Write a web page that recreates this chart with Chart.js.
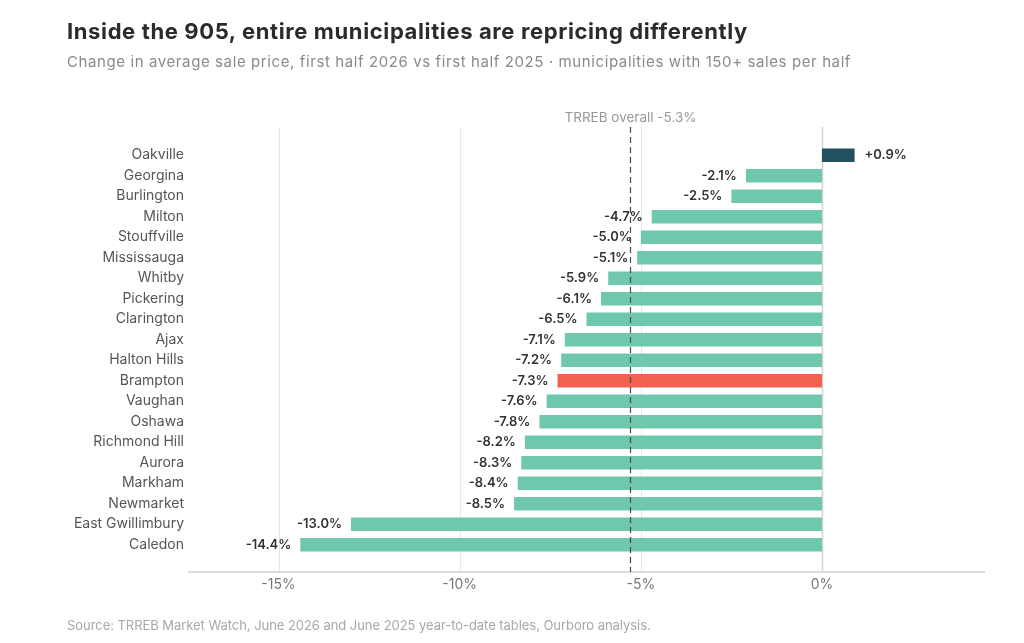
<!DOCTYPE html>
<html>
<head>
<meta charset="utf-8">
<script src="https://cdn.jsdelivr.net/npm/chart.js@4/dist/chart.umd.min.js"></script>
<style>
  body { margin: 0; background: #fff; font-family: "Inter", "Noto Sans", sans-serif; }
  #wrap { position: relative; width: 1024px; height: 643px; }
  #chart { position: absolute; left: 0; top: 0; }
  .title { position: absolute; left: 67px; top: 18px; font-size: 22px; font-weight: 700; color: #2b2b2b; letter-spacing: 0.62px; }
  .subtitle { position: absolute; left: 67px; top: 52px; font-size: 15px; color: #8a8a8a; letter-spacing: 0.6px; }
  .source { position: absolute; left: 67px; top: 617px; font-size: 13px; color: #a8a8a8; letter-spacing: -0.05px; }
</style>
</head>
<body>
<div id="wrap">
  <canvas id="chart" width="1024" height="643"></canvas>
  <div class="title">Inside the 905, entire municipalities are repricing differently</div>
  <div class="subtitle">Change in average sale price, first half 2026 vs first half 2025 · municipalities with 150+ sales per half</div>
  <div class="source">Source: TRREB Market Watch, June 2026 and June 2025 year-to-date tables, Ourboro analysis.</div>
</div>
<script>
const municipalities = ["Oakville", "Georgina", "Burlington", "Milton", "Stouffville", "Mississauga", "Whitby",
    "Pickering", "Clarington", "Ajax", "Halton Hills", "Brampton", "Vaughan", "Oshawa", "Richmond Hill",
    "Aurora", "Markham", "Newmarket", "East Gwillimbury", "Caledon"];
const priceChange = [0.9, -2.1, -2.5, -4.7, -5.0, -5.1, -5.9, -6.1, -6.5, -7.1, -7.2, -7.3, -7.6, -7.8, -8.2,
    -8.3, -8.4, -8.5, -13.0, -14.4];
const xTicks = [-15, -10, -5, 0];
const overallChange = -5.3;
const highlighted = "Brampton";

const teal = "#6fc8ae";
const red = "#f26150";
const dark = "#23505e";

let barColors = municipalities.map(function (name, i) {
    if (name === highlighted) return red;
    if (priceChange[i] > 0) return dark;
    return teal;
});

function fmt(v) {
    return (v > 0 ? "+" : "") + v.toFixed(1) + "%";
}

// grid lines and axis run a bit past the bars, so draw them by hand
const gridPlugin = {
    id: "grid",
    beforeDatasetsDraw(chart) {
        const ctx = chart.ctx;
        const area = chart.chartArea;
        const x = chart.scales.x;
        const top = area.top - 18;
        const bottom = area.bottom + 17;
        ctx.save();
        xTicks.forEach(function (t) {
            const px = Math.round(x.getPixelForValue(t)) + 0.5;
            ctx.strokeStyle = t === 0 ? "#d2d2ce" : "#e8e8e4";
            ctx.lineWidth = t === 0 ? 1.5 : 1;
            ctx.beginPath();
            ctx.moveTo(px, top);
            ctx.lineTo(px, bottom);
            ctx.stroke();
        });
        ctx.strokeStyle = "#dcdcd8";
        ctx.lineWidth = 2;
        ctx.beginPath();
        ctx.moveTo(area.left, bottom);
        ctx.lineTo(area.right, bottom);
        ctx.stroke();
        ctx.restore();
    },
    afterDatasetsDraw(chart) {
        const ctx = chart.ctx;
        const area = chart.chartArea;
        const x = chart.scales.x;
        const meta = chart.getDatasetMeta(0);
        ctx.save();
        // value labels
        ctx.font = "600 13px Inter, 'Noto Sans', sans-serif";
        ctx.fillStyle = "#333";
        ctx.textBaseline = "middle";
        meta.data.forEach(function (bar, i) {
            const v = priceChange[i];
            if (v < 0) {
                ctx.textAlign = "right";
                ctx.fillText(fmt(v), bar.x - 9, bar.y);
            } else {
                ctx.textAlign = "left";
                ctx.fillText(fmt(v), bar.x + 10, bar.y);
            }
        });
        // overall reference line
        const px = Math.round(x.getPixelForValue(overallChange)) + 0.5;
        ctx.strokeStyle = "#4a4a4a";
        ctx.lineWidth = 1.2;
        ctx.setLineDash([6, 4]);
        ctx.beginPath();
        ctx.moveTo(px, area.top - 18);
        ctx.lineTo(px, area.bottom + 17);
        ctx.stroke();
        ctx.setLineDash([]);
        ctx.font = "13.5px Inter, 'Noto Sans', sans-serif";
        ctx.fillStyle = "#999";
        ctx.textAlign = "center";
        ctx.fillText("TRREB overall " + overallChange.toFixed(1) + "%", px, area.top - 27);
        ctx.restore();
    }
};

new Chart(document.getElementById("chart"), {
    type: "bar",
    data: {
        labels: municipalities,
        datasets: [{
            data: priceChange,
            backgroundColor: barColors,
            borderWidth: 0,
            categoryPercentage: 1,
            barPercentage: 0.65
        }]
    },
    options: {
        indexAxis: "y",
        responsive: false,
        animation: false,
        layout: { padding: { top: 145, right: 39, left: 0, bottom: 0 } },
        plugins: {
            legend: { display: false },
            tooltip: { enabled: false }
        },
        scales: {
            x: {
                min: -17.5,
                max: 4.5,
                grid: { display: false, drawTicks: false },
                border: { display: false },
                afterBuildTicks: function (scale) {
                    scale.ticks = xTicks.map(function (v) { return { value: v }; });
                },
                afterFit: function (scale) { scale.height = 88; },
                ticks: {
                    padding: 21,
                    color: "#777",
                    font: { family: "Inter, 'Noto Sans', sans-serif", size: 14 },
                    callback: function (v) { return v + "%"; }
                }
            },
            y: {
                grid: { display: false, drawTicks: false },
                border: { display: false },
                afterFit: function (scale) { scale.width = 188; },
                ticks: {
                    padding: 4,
                    color: "#555",
                    font: { family: "Inter, 'Noto Sans', sans-serif", size: 14 }
                }
            }
        }
    },
    plugins: [gridPlugin]
});
</script>
</body>
</html>
